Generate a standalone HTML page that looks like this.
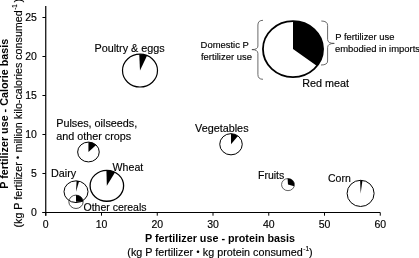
<!DOCTYPE html>
<html><head><meta charset="utf-8"><title>P fertilizer use</title>
<style>
html,body{margin:0;padding:0;background:#fff;}
body{width:419px;height:258px;overflow:hidden;}
svg{display:block;font-family:"Liberation Sans",Arial,sans-serif;}
.ax{stroke:#000;stroke-width:1;fill:none;}
.tk{font-size:10.5px;fill:#000;stroke:#000;stroke-width:0.15;}
.lb{font-size:10.8px;fill:#000;stroke:#000;stroke-width:0.15;}
.lg{font-size:9.45px;fill:#000;stroke:#000;stroke-width:0.15;}
.tt{font-size:10.78px;font-weight:bold;fill:#000;}
.ts{font-size:10.78px;fill:#000;stroke:#000;stroke-width:0.15;}
.br{stroke:#444;stroke-width:0.8;fill:none;}
</style></head><body>
<svg width="419" height="258" viewBox="0 0 419 258">
<rect width="419" height="258" fill="#fff"/>
<line x1="45.75" y1="6" x2="45.75" y2="215.7" class="ax" style="stroke-width:1.2"/>
<line x1="42.45" y1="212.5" x2="380.25" y2="212.5" class="ax"/>
<line x1="45.75" y1="212.5" x2="45.75" y2="215.7" class="ax"/>
<text x="45.75" y="227.9" class="tk" text-anchor="middle">0</text>
<line x1="101.50" y1="212.5" x2="101.50" y2="215.7" class="ax"/>
<text x="101.50" y="227.9" class="tk" text-anchor="middle">10</text>
<line x1="157.25" y1="212.5" x2="157.25" y2="215.7" class="ax"/>
<text x="157.25" y="227.9" class="tk" text-anchor="middle">20</text>
<line x1="213.00" y1="212.5" x2="213.00" y2="215.7" class="ax"/>
<text x="213.00" y="227.9" class="tk" text-anchor="middle">30</text>
<line x1="268.75" y1="212.5" x2="268.75" y2="215.7" class="ax"/>
<text x="268.75" y="227.9" class="tk" text-anchor="middle">40</text>
<line x1="324.50" y1="212.5" x2="324.50" y2="215.7" class="ax"/>
<text x="324.50" y="227.9" class="tk" text-anchor="middle">50</text>
<line x1="380.25" y1="212.5" x2="380.25" y2="215.7" class="ax"/>
<text x="380.25" y="227.9" class="tk" text-anchor="middle">60</text>
<line x1="42.45" y1="212.50" x2="45.75" y2="212.50" class="ax"/>
<text x="36.9" y="215.60" class="tk" text-anchor="end">0</text>
<line x1="42.45" y1="173.50" x2="45.75" y2="173.50" class="ax"/>
<text x="36.9" y="176.60" class="tk" text-anchor="end">5</text>
<line x1="42.45" y1="134.50" x2="45.75" y2="134.50" class="ax"/>
<text x="36.9" y="137.60" class="tk" text-anchor="end">10</text>
<line x1="42.45" y1="95.50" x2="45.75" y2="95.50" class="ax"/>
<text x="36.9" y="98.60" class="tk" text-anchor="end">15</text>
<line x1="42.45" y1="56.50" x2="45.75" y2="56.50" class="ax"/>
<text x="36.9" y="59.60" class="tk" text-anchor="end">20</text>
<line x1="42.45" y1="17.50" x2="45.75" y2="17.50" class="ax"/>
<text x="36.9" y="20.60" class="tk" text-anchor="end">25</text>
<ellipse cx="293" cy="49.1" rx="30.05" ry="28.00" fill="none" stroke="#000" stroke-width="1.8"/>
<path d="M293.00 49.10L293.00 21.10A30.05 28.00 0 0 1 317.00 65.95Z" fill="#000"/>
<ellipse cx="140" cy="70.6" rx="17.50" ry="16.40" fill="none" stroke="#000" stroke-width="1.2"/>
<path d="M140.00 70.60L139.24 54.22A17.50 16.40 0 0 1 147.12 55.62Z" fill="#000"/>
<ellipse cx="88.45" cy="152.0" rx="10.80" ry="9.90" fill="none" stroke="#000" stroke-width="1.0"/>
<path d="M88.45 152.00L88.45 142.10A10.80 9.90 0 0 1 96.17 145.07Z" fill="#000"/>
<ellipse cx="231" cy="144.25" rx="11.25" ry="10.60" fill="none" stroke="#000" stroke-width="1.0"/>
<path d="M231.00 144.25L231.00 133.65A11.25 10.60 0 0 1 237.93 135.90Z" fill="#000"/>
<ellipse cx="106.85" cy="185.8" rx="16.75" ry="15.45" fill="none" stroke="#000" stroke-width="1.3"/>
<path d="M106.85 185.80L106.41 170.36A16.75 15.45 0 0 1 115.10 172.35Z" fill="#000"/>
<ellipse cx="76.0" cy="191.7" rx="12.00" ry="10.85" fill="none" stroke="#000" stroke-width="1.0"/>
<path d="M76.00 191.70L76.63 180.86A12.00 10.85 0 0 1 79.11 181.22Z" fill="#000"/>
<ellipse cx="76" cy="201.8" rx="7.15" ry="6.70" fill="none" stroke="#222" stroke-width="0.8"/>
<path d="M76.00 201.80L76.00 195.10A7.15 6.70 0 0 1 83.15 201.80Z" fill="#000"/>
<ellipse cx="288" cy="184.6" rx="6.45" ry="6.05" fill="none" stroke="#222" stroke-width="0.7"/>
<path d="M288.00 184.60L287.55 178.56A6.45 6.05 0 0 1 294.23 186.17Z" fill="#000"/>
<ellipse cx="360.6" cy="193.4" rx="13.50" ry="13.10" fill="none" stroke="#000" stroke-width="1.0"/>
<path d="M360.60 193.40L360.13 180.31A13.50 13.10 0 0 1 362.48 180.43Z" fill="#000"/>
<path class="br" d="M263 20.3 Q257.9 20.3 257.9 25 L257.9 46 Q257.9 49.6 251.9 49.6 Q257.9 49.6 257.9 53.5 L257.9 74.5 Q257.9 79.3 263 79.3"/>
<path class="br" d="M321.3 21 Q327.6 21 327.6 25.5 L327.6 39.5 Q327.6 43.4 334.3 43.4 Q327.6 43.4 327.6 47.5 L327.6 61 Q327.6 65 321 65"/>
<text class="lg" x="200.6" y="48.3">Domestic P</text>
<text class="lg" x="201" y="60.2">fertilizer use</text>
<text class="lg" style="font-size:9.38px" x="335.2" y="40.2">P fertilizer use</text>
<text class="lg" x="335" y="52">embodied in imports</text>
<text class="lb" x="302.2" y="87">Red meat</text>
<text class="lb" x="94.5" y="52.2">Poultry &amp; eggs</text>
<text class="lb" x="56.2" y="127">Pulses, oilseeds,</text>
<text class="lb" x="56.2" y="140.2">and other crops</text>
<text class="lb" x="195.1" y="131.9">Vegetables</text>
<text class="lb" x="51" y="176.9">Dairy</text>
<text class="lb" style="font-size:10.6px" x="112.6" y="170.7">Wheat</text>
<text class="lb" style="font-size:10.5px" x="83.5" y="210.8">Other cereals</text>
<text class="lb" style="font-size:10.5px" x="258" y="179.2">Fruits</text>
<text class="lb" style="font-size:10.5px" x="328" y="182.2">Corn</text>
<text class="tt" x="220" y="242.2" text-anchor="middle">P fertilizer use - protein basis</text>
<text class="ts" x="220" y="255.6" text-anchor="middle">(kg P fertilizer <tspan font-size="8.6" dx="0.4" dy="-0.9">•</tspan><tspan dx="0.4" dy="0.9"> </tspan>kg protein consumed<tspan font-size="6.5" dx="0.5" dy="-4.7">-1</tspan><tspan dy="4.7">)</tspan></text>
<text class="tt" transform="translate(8.1,113.8) rotate(-90)" text-anchor="middle">P fertilizer use - Calorie basis</text>
<text class="ts" style="font-size:10.71px" transform="translate(21.5,113.2) rotate(-90)" text-anchor="middle">(kg P fertilizer <tspan font-size="8.6" dx="0.4" dy="-0.9">•</tspan><tspan dx="0.4" dy="0.9"> </tspan>million kilo-calories consumed<tspan font-size="6.5" dx="0.5" dy="-4.7">-1</tspan><tspan dx="1.6" dy="4.7">)</tspan></text>
</svg>
</body></html>
